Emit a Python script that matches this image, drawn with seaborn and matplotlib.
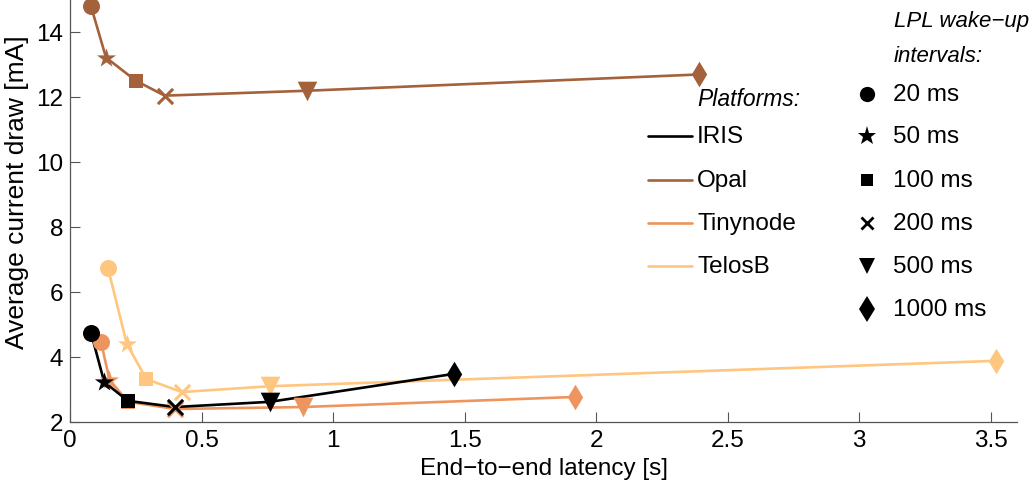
import matplotlib
matplotlib.use("Agg")
import matplotlib.pyplot as plt
from matplotlib.lines import Line2D
from matplotlib.ticker import FuncFormatter
import seaborn as sns
import pandas as pd

platforms = ["IRIS", "Opal", "Tinynode", "TelosB"]
intervals = ["20 ms", "50 ms", "100 ms", "200 ms", "500 ms", "1000 ms"]

iris_latency = [0.08, 0.13, 0.22, 0.40, 0.76, 1.46]
iris_current = [4.74, 3.23, 2.65, 2.46, 2.62, 3.48]
opal_latency = [0.08, 0.137, 0.25, 0.36, 0.90, 2.39]
opal_current = [14.77, 13.2, 12.49, 12.03, 12.18, 12.68]
tiny_latency = [0.118, 0.15, 0.22, 0.40, 0.885, 1.92]
tiny_current = [4.46, 3.3, 2.62, 2.4, 2.46, 2.77]
telos_latency = [0.144, 0.216, 0.29, 0.425, 0.76, 3.52]
telos_current = [6.74, 4.4, 3.32, 2.92, 3.1, 3.88]

colors = {"IRIS": "#000000", "Opal": "#A3623B", "Tinynode": "#EE955F", "TelosB": "#FFC67F"}
markers = {"20 ms": "o", "50 ms": "*", "100 ms": "s", "200 ms": "x", "500 ms": "v", "1000 ms": "d"}
sizes = {"20 ms": 150, "50 ms": 210, "100 ms": 100, "200 ms": 120, "500 ms": 200, "1000 ms": 170}

rows = []
for p, xs, ys in [("IRIS", iris_latency, iris_current), ("Opal", opal_latency, opal_current),
                  ("Tinynode", tiny_latency, tiny_current), ("TelosB", telos_latency, telos_current)]:
    for i, x, y in zip(intervals, xs, ys):
        rows.append({"platform": p, "interval": i, "latency": x, "current": y})
df = pd.DataFrame(rows)

sns.set_style("ticks")
plt.rcParams["font.family"] = ["Liberation Sans", "DejaVu Sans"]
plt.rcParams["font.size"] = 17.5
plt.rcParams["text.color"] = "black"
plt.rcParams["axes.labelcolor"] = "black"
plt.rcParams["xtick.labelcolor"] = "black"
plt.rcParams["ytick.labelcolor"] = "black"
FS = 17.5

W, H = 1032, 481
fig = plt.figure(figsize=(W / 100, H / 100), dpi=100)
ax = fig.add_axes([70 / W, 1 - 423 / H, (1017 - 70) / W, 423 / H])

order = ["Opal", "TelosB", "Tinynode", "IRIS"]
for p in order:
    sub = df[df.platform == p]
    sns.lineplot(data=sub, x="latency", y="current", color=colors[p], sort=False,
                 linewidth=1.9, ax=ax, legend=False, estimator=None)
    for itv in intervals:
        s2 = sub[sub.interval == itv]
        m = markers[itv]
        sns.scatterplot(data=s2, x="latency", y="current", color=colors[p], marker=m,
                        s=sizes[itv], linewidth=2.2 if m == "x" else 0, ax=ax,
                        legend=False, zorder=3, clip_on=False)

ax.set_xlim(0, 3.6)
ax.set_ylim(2, 15)
ax.set_xticks([0, 0.5, 1, 1.5, 2, 2.5, 3, 3.5])
ax.set_yticks([2, 4, 6, 8, 10, 12, 14])
ax.xaxis.set_major_formatter(FuncFormatter(lambda v, p: f"{v:g}"))
ax.set_xlabel("End−to−end latency [s]", fontsize=FS, labelpad=0, color="black")
ax.set_ylabel("Average current draw [mA]", fontsize=19, color="black")
ax.yaxis.set_label_coords((29 - 70) / 947, (423 - 192) / 423)
ax.xaxis.set_label_coords(0.5, -0.083)
ax.tick_params(direction="in", length=7, width=0.8, color="#555555", labelsize=FS,
               labelcolor="black")
ax.tick_params(axis="y", pad=5)
ax.tick_params(axis="x", pad=5)
for s in ["top", "right"]:
    ax.spines[s].set_visible(False)
for s in ["left", "bottom"]:
    ax.spines[s].set_color("#555555")
    ax.spines[s].set_linewidth(0.9)


def fx(px):
    return px / W


def fy(py):
    return 1 - py / H


# Platforms legend (drawn by hand)
fig.text(fx(697), fy(100), "Platforms:", style="italic", fontsize=16.5, ha="left", va="center")
for p, ry in zip(platforms, [137, 181, 224, 267]):
    fig.add_artist(Line2D([fx(648), fx(692)], [fy(ry), fy(ry)], color=colors[p], lw=1.9,
                          transform=fig.transFigure))
    fig.text(fx(697), fy(ry), p, fontsize=FS, ha="left", va="center")

# Intervals legend
fig.text(fx(894), fy(22), "LPL wake−up", style="italic", fontsize=16, ha="left", va="center")
fig.text(fx(894), fy(57), "intervals:", style="italic", fontsize=16, ha="left", va="center")
msz = {"o": 11, "*": 14, "s": 9, "x": 9, "v": 12, "d": 13}
for itv, ry in zip(intervals, [95, 137, 181, 224, 267, 310]):
    m = markers[itv]
    fig.add_artist(Line2D([fx(867)], [fy(ry)], marker=m, color="black", linestyle="none",
                          markersize=msz[m], markeredgewidth=2 if m == "x" else 0,
                          transform=fig.transFigure))
    fig.text(fx(893), fy(ry), itv, fontsize=FS, ha="left", va="center")

fig.savefig("out.png", dpi=100)
